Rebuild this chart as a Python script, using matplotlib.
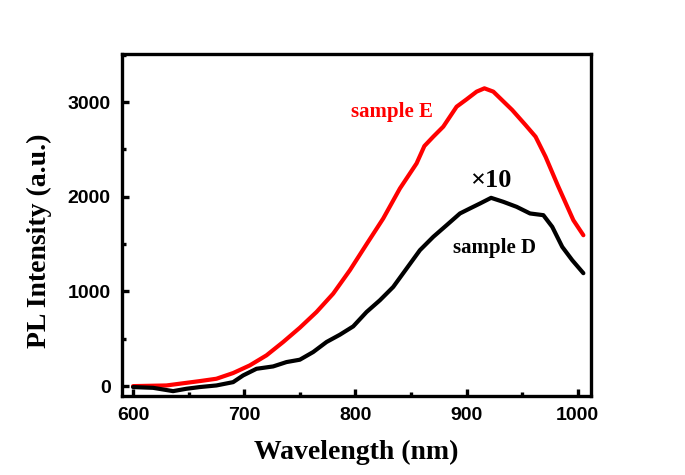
import numpy as np
import matplotlib
matplotlib.use('Agg')
import matplotlib.pyplot as plt
from matplotlib.ticker import MultipleLocator

# sample E (red)
wl_e = [600, 630, 660, 675, 690, 705, 720, 735, 750, 765, 780, 795, 810, 825,
        840, 855, 862, 870, 879, 891, 900, 909, 916, 924, 941, 953, 962, 971,
        982, 996, 1005]
pl_e = [0, 7, 53, 78, 138, 219, 325, 466, 617, 783, 977, 1224, 1499, 1771,
        2088, 2353, 2536, 2635, 2741, 2952, 3030, 3111, 3146, 3111, 2917, 2758,
        2635, 2423, 2120, 1753, 1594]

# sample D (black, x10)
wl_d = [600, 618, 636, 648, 660, 675, 690, 699, 711, 726, 738, 750, 762, 774,
        786, 798, 810, 822, 834, 846, 858, 870, 882, 894, 903, 912, 922, 933,
        945, 957, 969, 977, 986, 995, 1005]
pl_d = [-10, -18, -53, -28, -10, 7, 42, 113, 183, 208, 254, 279, 360, 466,
        543, 631, 783, 907, 1048, 1242, 1436, 1577, 1700, 1824, 1877, 1929,
        1989, 1947, 1894, 1824, 1806, 1683, 1471, 1330, 1193]

serif = 'Liberation Serif'
sans = 'Liberation Sans'

fig = plt.figure(figsize=(6.85, 4.75), dpi=100)
ax = fig.add_axes([0.178, 0.166, 0.685, 0.72])

ax.plot(wl_e, pl_e, color='#ff0000', lw=3, solid_joinstyle='round', solid_capstyle='round')
ax.plot(wl_d, pl_d, color='black', lw=3, solid_joinstyle='round', solid_capstyle='round')

ax.set_xlim(590, 1012)
ax.set_ylim(-106, 3507)
ax.xaxis.set_major_locator(MultipleLocator(100))
ax.xaxis.set_minor_locator(MultipleLocator(50))
ax.yaxis.set_major_locator(MultipleLocator(1000))
ax.yaxis.set_minor_locator(MultipleLocator(500))

for s in ax.spines.values():
    s.set_linewidth(2.4)
ax.tick_params(which='both', direction='in', width=2.4, top=False, right=False)
ax.tick_params(which='major', length=5, pad=8)
ax.tick_params(which='minor', length=3)
for lab in ax.get_xticklabels() + ax.get_yticklabels():
    lab.set_fontfamily(sans)
    lab.set_fontweight('bold')
    lab.set_fontsize(14)

ax.set_xlabel('Wavelength (nm)', fontfamily=serif, fontweight='bold', fontsize=20, labelpad=11)
ax.set_ylabel('PL Intensity (a.u.)', fontfamily=serif, fontweight='bold', fontsize=20, labelpad=11)
ax.yaxis.label.set_y(0.453)

ax.text(833, 2893, 'sample E', color='#ff0000', fontfamily=serif, fontweight='bold',
        fontsize=15, ha='center', va='center')
ax.text(925, 1457, 'sample D', color='black', fontfamily=serif, fontweight='bold',
        fontsize=15, ha='center', va='center')
ax.text(922, 2175, '×10', color='black', fontfamily=serif, fontweight='bold',
        fontsize=19, ha='center', va='center')

fig.savefig('out.png', dpi=100)
